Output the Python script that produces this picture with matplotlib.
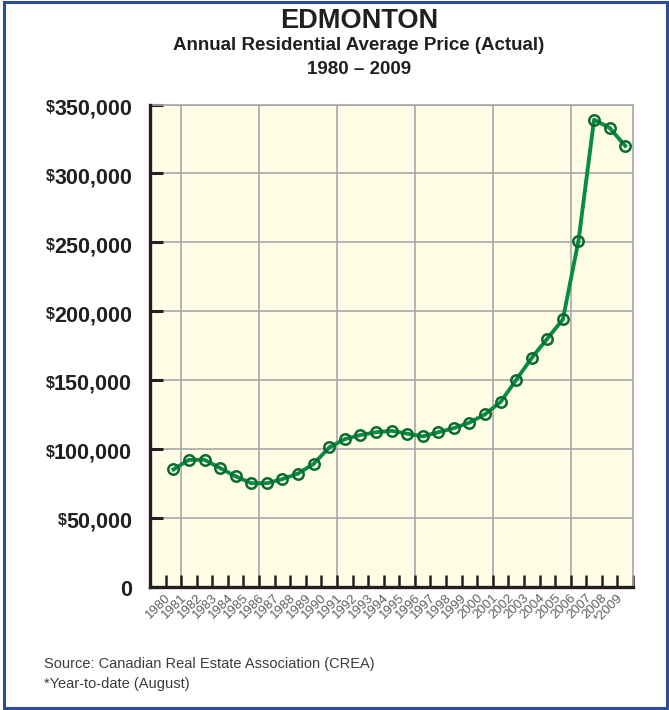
import numpy as np
import matplotlib
matplotlib.use('Agg')
from matplotlib import pyplot as plt
from matplotlib import transforms
from matplotlib.patches import Rectangle

# Edmonton annual residential average price, 1980-2009 (2009 year-to-date)
years = ['1980', '1981', '1982', '1983', '1984', '1985', '1986', '1987', '1988', '1989',
         '1990', '1991', '1992', '1993', '1994', '1995', '1996', '1997', '1998', '1999',
         '2000', '2001', '2002', '2003', '2004', '2005', '2006', '2007', '2008', '*2009']
prices = [85000, 92000, 92000, 86000, 80000, 75000, 75000, 78000, 82000, 89000,
          101000, 107000, 110000, 112000, 113000, 111000, 109000, 112000, 115000, 119000,
          125000, 134000, 150000, 166000, 180000, 194000, 251000, 339000, 333000, 320000]
y_ticks = [0, 50000, 100000, 150000, 200000, 250000, 300000, 350000]
y_labels = ['0', '50,000', '100,000', '150,000', '200,000', '250,000', '300,000', '350,000']

title = 'EDMONTON'
subtitle = 'Annual Residential Average Price (Actual)'
period = '1980 \u2013 2009'
notes = ['Source: Canadian Real Estate Association (CREA)', '*Year-to-date (August)']

plt.rcParams['font.family'] = ['Liberation Sans', 'DejaVu Sans']

W, H = 669, 710
fig = plt.figure(figsize=(W / 100, H / 100), dpi=100)
ax = fig.add_axes([150 / W, 1 - 586.5 / H, (633 - 150) / W, (586.5 - 104.5) / H])

grid_c = '#a7a7ab'
ink = '#231f20'
ax.set_facecolor('#fffde6')

x = np.arange(len(years))
ax.set_xlim(-1.5, len(years) - 0.5)
ax.set_ylim(0, 350000)

# grid: horizontal at every label, vertical every five years
for v in y_ticks[1:]:
    ax.axhline(v, color=grid_c, lw=1.2, zorder=1)
bounds = np.arange(-0.5, len(years), 1.0)
ax.vlines(bounds[1:-1:5], 0, 350000, color=grid_c, lw=1.2, zorder=1)

ax.plot(x, prices, color='#0a8c40', lw=2.8, zorder=3)
ax.plot(x, prices, ls='none', marker='o', ms=7.5, mfc='none', mec='#0b6a33', mew=1.8, zorder=4)

for s in ['top', 'right']:
    ax.spines[s].set_color(grid_c)
    ax.spines[s].set_linewidth(1.2)
for s in ['left', 'bottom']:
    ax.spines[s].set_color(ink)
    ax.spines[s].set_linewidth(2.4)
    ax.spines[s].set_zorder(5)

# year labels at the points, tick marks between years
ax.set_xticks(x)
ax.set_xticklabels(years, rotation=45, ha='right', fontsize=9.5, color='#606060')
shift = transforms.ScaledTranslation(2.5 / 72, 0.5 / 72, fig.dpi_scale_trans)
for lab in ax.get_xticklabels():
    lab.set_transform(lab.get_transform() + shift)
ax.set_xticks(bounds, minor=True)
ax.tick_params(axis='x', which='major', length=0, pad=4)
ax.tick_params(axis='x', which='minor', direction='in', length=8.5, width=1.8, color=ink)

ax.set_yticks(y_ticks)
ax.set_yticklabels([])
ax.tick_params(axis='y', direction='in', length=9, width=2.2, color=ink)

# dollar labels with a small raised $
trans = transforms.blended_transform_factory(ax.transAxes, ax.transData)
for v, lab in zip(y_ticks, y_labels):
    t = ax.annotate(lab, xy=(0, v), xycoords=trans, xytext=(-13, -7.2), textcoords='offset points',
                    ha='right', va='baseline', fontsize=15.5, fontweight='bold', color=ink)
    if v > 0:
        ax.annotate('\\$', xy=(0, 0), xycoords=t, xytext=(0.3, 5.2), textcoords='offset points',
                    ha='right', va='baseline', fontsize=11.5, fontweight='bold', color=ink)

cx = 359 / W
fig.text(cx, 1 - 21 / H, title, ha='center', va='center', fontsize=19.5, fontweight='bold', color=ink)
fig.text(cx, 1 - 46 / H, subtitle, ha='center', va='center', fontsize=13.5, fontweight='bold', color=ink)
fig.text(cx, 1 - 70 / H, period, ha='center', va='center', fontsize=13.5, fontweight='bold', color=ink)

fig.text(44 / W, 1 - 664 / H, notes[0], ha='left', va='center', fontsize=10.5, color='#3c3c3c')
fig.text(44 / W, 1 - 684 / H, notes[1], ha='left', va='center', fontsize=10.5, color='#3c3c3c')

fig.patches.append(Rectangle((4 / W, 2 / H), (W - 6.5) / W, (H - 4) / H, transform=fig.transFigure,
                             fill=False, edgecolor='#2d4d9c', lw=2.2))

fig.savefig('out.png', dpi=100)
